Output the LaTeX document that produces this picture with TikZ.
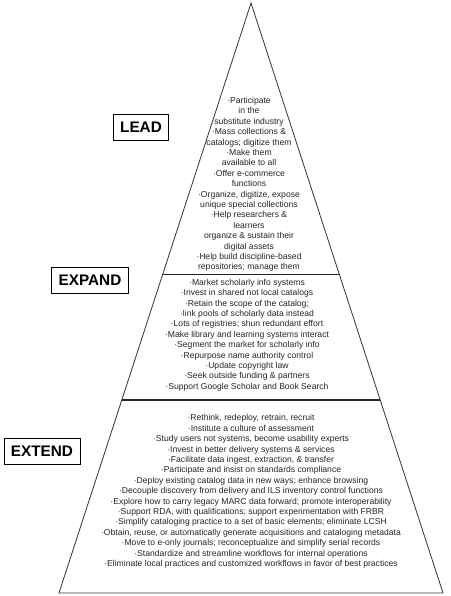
\documentclass[tikz,border=0pt]{standalone}
\usepackage{fontspec}
\setmainfont{Liberation Sans}
\usetikzlibrary{calc}
\begin{document}
\begin{tikzpicture}[x=1pt,y=-1pt,
  labelbox/.style={draw=black, line width=0.8pt, font=\fontsize{15.3}{18}\selectfont\bfseries, inner xsep=7pt, minimum height=26pt},
  body/.style={align=center, font=\fontsize{8.6}{10.4}\selectfont, text=black!85, inner sep=0pt},
  edge/.style={draw=black!80, line width=0.8pt},
  divider/.style={draw=black!85, line width=0.9pt},
  thickdivider/.style={draw=black!85, line width=1.8pt}]
\useasboundingbox[fill=white] (0,0) rectangle (450,596);
\coordinate (apex) at (251,3);
\coordinate (bl) at (59,593);
\coordinate (br) at (443,593);
\draw[edge, line join=miter] (apex) -- (bl) -- (br) -- cycle;
\coordinate (d1l) at ($(apex)!0.4593!(bl)$);
\coordinate (d1r) at ($(apex)!0.4593!(br)$);
\coordinate (d2l) at ($(apex)!0.6729!(bl)$);
\coordinate (d2r) at ($(apex)!0.6729!(br)$);
\draw[divider] (d1l) -- (d1r);
\draw[thickdivider] (d2l) -- (d2r);

\node[labelbox] (lead) at (141,127) {LEAD};
\node[labelbox] (expand) at (90,280) {EXPAND};
\node[labelbox] (extend) at (42,451) {EXTEND};

\node[body] (leadtext) at (249,184.5) {·Participate\\in the\\substitute industry\\·Mass collections \&\\catalogs; digitize them\\·Make them\\available to all\\·Offer e-commerce\\functions\\·Organize, digitize, expose\\unique special collections\\·Help researchers \&\\learners\\organize \& sustain their\\digital assets\\·Help build discipline-based\\repositories; manage them};

\node[body] (expandtext) at (247,335) {·Market scholarly info systems\\·Invest in shared not local catalogs\\·Retain the scope of the catalog;\\·link pools of scholarly data instead\\·Lots of registries; shun redundant effort\\·Make library and learning systems interact\\·Segment the market for scholarly info\\·Repurpose name authority control\\·Update copyright law\\·Seek outside funding \& partners\\·Support Google Scholar and Book Search};

\node[body] (extendtext) at (251,491.5) {·Rethink, redeploy, retrain, recruit\\·Institute a culture of assessment\\·Study users not systems, become usability experts\\·Invest in better delivery systems \& services\\·Facilitate data ingest, extraction, \& transfer\\·Participate and insist on standards compliance\\·Deploy existing catalog data in new ways; enhance browsing\\·Decouple discovery from delivery and ILS inventory control functions\\·Explore how to carry legacy MARC data forward; promote interoperability\\·Support RDA, with qualifications; support experimentation with FRBR\\·Simplify cataloging practice to a set of basic elements; eliminate LCSH\\·Obtain, reuse, or automatically generate acquisitions and cataloging metadata\\·Move to e-only journals; reconceptualize and simplify serial records\\·Standardize and streamline workflows for internal operations\\·Eliminate local practices and customized workflows in favor of best practices};
\end{tikzpicture}
\end{document}
